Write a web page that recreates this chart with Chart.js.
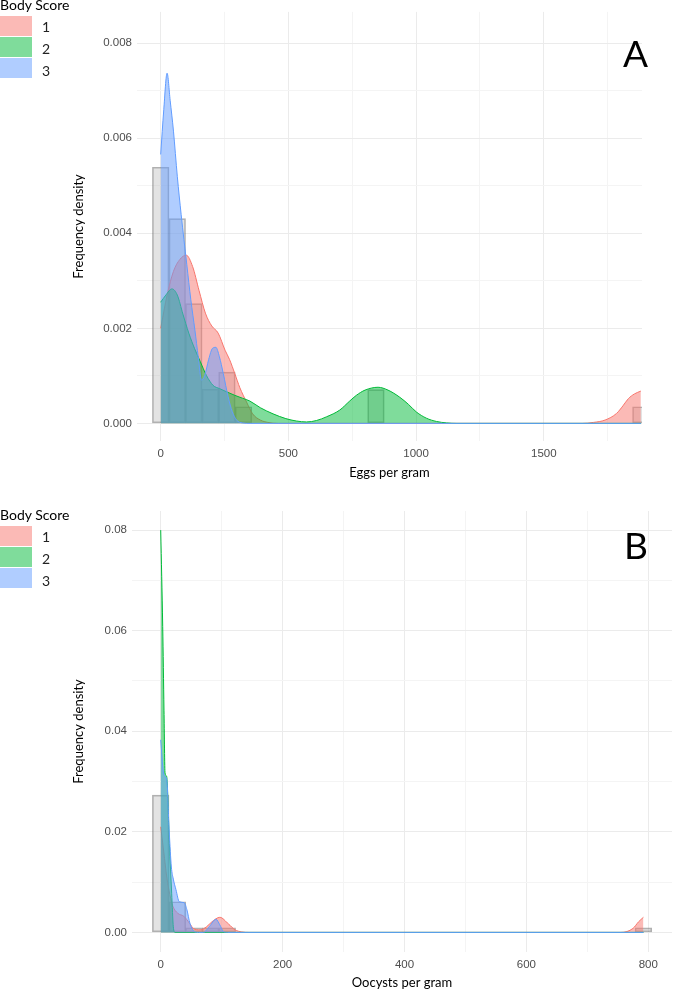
<!DOCTYPE html>
<html>
<head>
<meta charset="utf-8">
<title>Body score and parasite counts</title>
<script src="https://cdn.jsdelivr.net/npm/chart.js@4.4.0/dist/chart.umd.min.js"></script>
<style>
  html, body { margin: 0; padding: 0; background: #fff; }
  body { position: relative; width: 673px; height: 992px; overflow: hidden; font-family: Lato, "Noto Sans", sans-serif; }
  canvas { position: absolute; left: 0; }
  #chartA { top: 0; }
  #chartB { top: 490px; }
  .txt { position: absolute; line-height: 1; white-space: nowrap; color: #000; }
  .key { position: absolute; left: 0; width: 32px; height: 20px; }
</style>
</head>
<body>
<canvas id="chartA" width="673" height="490"></canvas>
<canvas id="chartB" width="673" height="502"></canvas>
<div id="legendA"></div>
<div id="legendB"></div>
<div class="txt" style="left:623px;top:34px;font-size:37px">A</div>
<div class="txt" style="left:624px;top:526px;font-size:37px">B</div>
<script>
// groups
const scores = ['1', '2', '3'];
const scoreColours = ['#F8766D', '#00BA38', '#619CFF'];
const scoreFills = ['rgba(248,118,109,0.5)', 'rgba(0,186,56,0.5)', 'rgba(97,156,255,0.5)'];

// ---- panel A: eggs per gram ----
// histogram bin centres and frequency density (all animals)
const eggBins = [0, 64.8, 129.7, 194.5, 259.3, 324.1, 389, 453.8, 518.6, 583.4, 648.3, 713.1, 777.9, 842.8, 907.6,
  972.4, 1037.2, 1102.1, 1166.9, 1231.7, 1296.6, 1361.4, 1426.2, 1491, 1555.9, 1620.7, 1685.5, 1750.3, 1815.2, 1880];
const eggHist = [0.00539, 0.00431, 0.00252, 0.00072, 0.00108, 0.00035, 0, 0, 0, 0, 0, 0, 0, 0.00071, 0,
  0, 0, 0, 0, 0, 0, 0, 0, 0, 0, 0, 0, 0, 0, 0.00035];
// density curves per body score
const eggX1 = [0, 25, 50, 75, 100, 125, 150, 175, 200, 225, 252, 270, 290, 310, 336, 360, 390, 420, 460, 1650, 1694, 1740, 1785, 1810, 1831, 1855, 1880];
const eggY1 = [0.0020, 0.0027, 0.0032, 0.00345, 0.00354, 0.0033, 0.0028, 0.00232, 0.00205, 0.0019, 0.00154, 0.00134, 0.00105, 0.00075, 0.00045, 0.0002, 0.00007, 0.00002, 0, 0, 0.00002, 0.00007, 0.00021, 0.00037, 0.00052, 0.00062, 0.00068];
const eggX2 = [0, 20, 44, 65, 87, 110, 133, 155, 179, 205, 231, 260, 290, 320, 349, 390, 440, 490, 531, 571, 610, 650, 701, 740, 766, 800, 851, 890, 936, 970, 1001, 1040, 1080, 1120, 1160, 1880];
const eggY2 = [0.00255, 0.0027, 0.00283, 0.0027, 0.0023, 0.0019, 0.00157, 0.0013, 0.00101, 0.0008, 0.00073, 0.00066, 0.00059, 0.00053, 0.00047, 0.00033, 0.0002, 0.0001, 0.00005, 0.00003, 0.00006, 0.00014, 0.00028, 0.00047, 0.00059, 0.0007, 0.00076, 0.0007, 0.00055, 0.0004, 0.00024, 0.00011, 0.00004, 0.00001, 0, 0];
const eggX3 = [0, 12, 25, 37, 50, 65, 80, 102, 118, 134, 147, 160, 172, 188, 203, 216, 230, 245, 264, 280, 297, 320, 350, 1880];
const eggY3 = [0.00566, 0.0066, 0.00737, 0.0068, 0.00615, 0.0052, 0.0044, 0.00335, 0.0026, 0.00196, 0.0014, 0.00091, 0.001, 0.00135, 0.00158, 0.0016, 0.0014, 0.00105, 0.00056, 0.00025, 0.00007, 0.00001, 0, 0];
// grid lines and the ones that carry a label
const eggXGrid = [0, 250, 500, 750, 1000, 1250, 1500, 1750];
const eggXLabels = [0, 500, 1000, 1500];
const eggYGrid = [0, 0.001, 0.002, 0.003, 0.004, 0.005, 0.006, 0.007, 0.008];
const eggYLabels = ['0.000', '0.002', '0.004', '0.006', '0.008'];

// ---- panel B: oocysts per gram ----
const oocBins = [0, 27.3, 54.6, 81.9, 109.2, 136.6, 163.9, 191.2, 218.5, 245.8, 273.1, 300.4, 327.7, 355, 382.3,
  409.7, 437, 464.3, 491.6, 518.9, 546.2, 573.5, 600.8, 628.1, 655.4, 682.8, 710.1, 737.4, 764.7, 792];
const oocHist = [0.0273, 0.0061, 0.0009, 0.0009, 0.0009, 0, 0, 0, 0, 0, 0, 0, 0, 0, 0,
  0, 0, 0, 0, 0, 0, 0, 0, 0, 0, 0, 0, 0, 0, 0.0009];
const oocX1 = [0, 5, 10, 15, 20, 28, 38, 48, 53.5, 64.5, 75, 84, 97, 111, 122, 133, 145, 755, 775, 784, 792];
const oocY1 = [0.021, 0.016, 0.011, 0.0075, 0.0052, 0.0038, 0.0032, 0.0017, 0.0008, 0.0005, 0.0011, 0.0021, 0.003, 0.0017, 0.0005, 0.0001, 0, 0, 0.0008, 0.0021, 0.003];
const oocX2 = [0, 3.3, 5.4, 7.1, 9.8, 14.2, 18, 20.7, 23.5, 792];
const oocY2 = [0.080, 0.0608, 0.0442, 0.0317, 0.031, 0.0177, 0.0078, 0.0011, 0, 0];
const oocX3 = [0, 4.3, 7.5, 9.8, 14, 17.5, 20.7, 25, 30.5, 38.7, 43, 48, 56, 62, 70, 80, 90.7, 97, 102.7, 110, 792];
const oocY3 = [0.0383, 0.032, 0.031, 0.0305, 0.02, 0.013, 0.0106, 0.0085, 0.0061, 0.0059, 0.0045, 0.0018, 0.0001, 0, 0, 0.0012, 0.0026, 0.0015, 0.0002, 0, 0];
const oocXGrid = [0, 100, 200, 300, 400, 500, 600, 700, 800];
const oocXLabels = [0, 200, 400, 600, 800];
const oocYGrid = [0, 0.01, 0.02, 0.03, 0.04, 0.05, 0.06, 0.07, 0.08];
const oocYLabels = ['0.00', '0.02', '0.04', '0.06', '0.08'];

const tickFont = { family: '"Liberation Sans", Arial, sans-serif', size: 11.5 };
const titleFont = { family: 'Lato, "Noto Sans", sans-serif', size: 13 };

function findLabel(list, v) {
  const hit = list.find(s => Math.abs(Number(s) - v) < 1e-7);
  return hit === undefined ? '' : String(hit);
}

function makePanel(id, o) {
  const datasets = [{
    type: 'bar',
    label: 'all',
    data: o.bins.map((x, i) => ({ x: x, y: o.hist[i] })),
    backgroundColor: 'rgba(185,185,185,0.4)',
    borderColor: 'rgba(80,80,80,0.45)',
    borderWidth: 1,
    borderSkipped: false,
    barPercentage: 1,
    categoryPercentage: 1,
    order: 4
  }];
  o.dens.forEach((d, i) => {
    datasets.push({
      type: 'line',
      label: scores[i],
      data: d[0].map((x, j) => ({ x: x, y: d[1][j] })),
      borderColor: scoreColours[i],
      backgroundColor: scoreFills[i],
      borderWidth: 1,
      pointRadius: 0,
      fill: 'origin',
      cubicInterpolationMode: 'monotone',
      order: 3 - i
    });
  });

  const gridCol = (labels) => (ctx) => findLabel(labels, ctx.tick.value) !== '' ? '#EBEBEB' : '#F4F4F4';

  return new Chart(document.getElementById(id), {
    type: 'bar',
    data: { datasets: datasets },
    options: {
      responsive: false,
      animation: false,
      layout: { padding: { top: o.top, right: o.right, left: 0, bottom: 0 } },
      plugins: { legend: { display: false }, tooltip: { enabled: false } },
      scales: {
        x: {
          type: 'linear',
          min: o.xMin, max: o.xMax,
          offset: false,
          afterBuildTicks: (s) => { s.ticks = o.xGrid.map(v => ({ value: v })); },
          afterFit: (s) => { s.height = o.xAxisH; },
          grid: { offset: false, drawTicks: false, color: gridCol(o.xLabels), lineWidth: 1 },
          border: { display: false },
          ticks: {
            autoSkip: false, maxRotation: 0,
            padding: 6, color: '#4D4D4D', font: tickFont,
            callback: (v) => findLabel(o.xLabels, v)
          },
          title: { display: true, text: o.xTitle, color: '#000', font: titleFont, padding: { top: 0, bottom: o.xTitlePad } }
        },
        y: {
          type: 'linear',
          min: o.yMin, max: o.yMax,
          afterBuildTicks: (s) => { s.ticks = o.yGrid.map(v => ({ value: v })); },
          afterFit: (s) => { s.width = o.left; },
          grid: { drawTicks: false, color: gridCol(o.yLabels), lineWidth: 1 },
          border: { display: false },
          ticks: {
            autoSkip: false,
            padding: 5, color: '#4D4D4D', font: tickFont,
            callback: (v) => findLabel(o.yLabels, v)
          },
          title: { display: true, text: 'Frequency density', color: '#000', font: titleFont, padding: { top: 71, bottom: 0 } }
        }
      }
    }
  });
}

makePanel('chartA', {
  bins: eggBins, hist: eggHist,
  dens: [[eggX1, eggY1], [eggX2, eggY2], [eggX3, eggY3]],
  xMin: -92.8, xMax: 1884.5, xGrid: eggXGrid, xLabels: eggXLabels, xTitle: 'Eggs per gram',
  yMin: -0.000371, yMax: 0.00866, yGrid: eggYGrid, yLabels: eggYLabels,
  top: 10, right: 31, left: 137, xAxisH: 49, xTitlePad: 9
});

makePanel('chartB', {
  bins: oocBins, hist: oocHist,
  dens: [[oocX1, oocY1], [oocX2, oocY2], [oocX3, oocY3]],
  xMin: -47.1, xMax: 838.9, xGrid: oocXGrid, xLabels: oocXLabels, xTitle: 'Oocysts per gram',
  yMin: -0.0039, yMax: 0.0838, yGrid: oocYGrid, yLabels: oocYLabels,
  top: 21, right: 1, left: 132, xAxisH: 40, xTitlePad: 1
});

// legends (ggplot-style key on the left)
function makeLegend(id, titleBase, keyTops, labelBases) {
  const box = document.getElementById(id);
  const fs = 14;
  let html = '<div class="txt" style="left:0;top:' + (titleBase - 0.887 * fs) + 'px;font-size:' + fs + 'px">Body Score</div>';
  scores.forEach((s, i) => {
    html += '<div class="key" style="top:' + keyTops[i] + 'px;background:' + scoreFills[i] + '"></div>';
    html += '<div class="txt" style="left:42px;top:' + (labelBases[i] - 0.887 * fs) + 'px;font-size:' + fs + 'px;color:#222">' + s + '</div>';
  });
  box.innerHTML = html;
}
makeLegend('legendA', 10, [16, 37, 58], [32, 54, 76]);
makeLegend('legendB', 520, [526, 547, 568], [542.5, 564.5, 586.5]);
</script>
</body>
</html>
